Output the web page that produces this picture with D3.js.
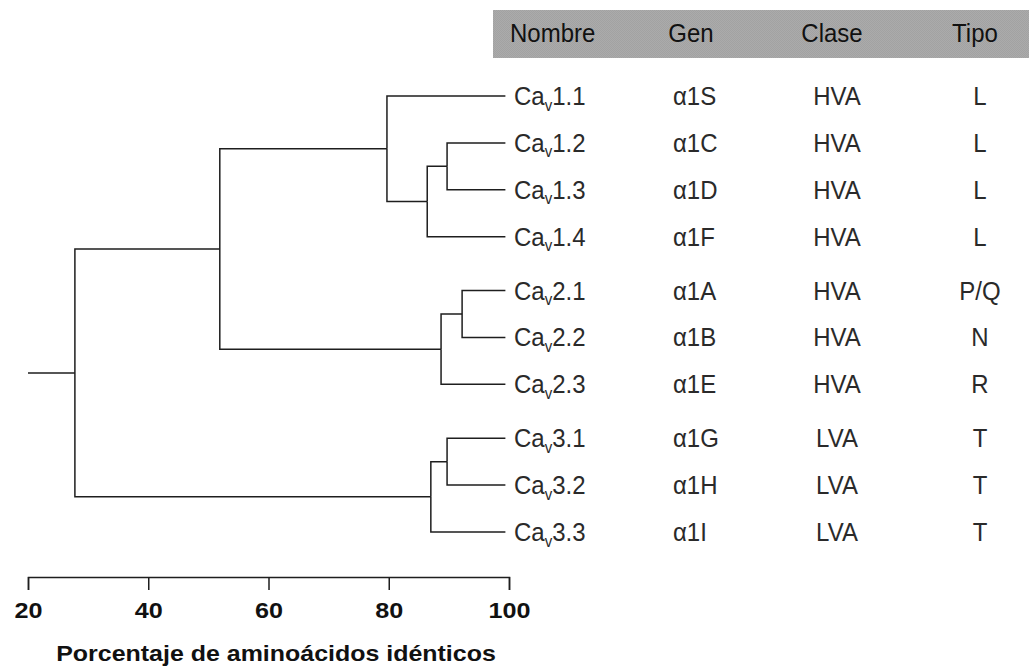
<!DOCTYPE html>
<html>
<head>
<meta charset="utf-8">
<script src="https://cdn.jsdelivr.net/npm/d3@7"></script>
<style>
  body { margin: 0; background: #fff; }
  svg { display: block; font-family: "Liberation Sans", Arial, sans-serif; }
</style>
</head>
<body>
<script>
// channel names, in leaf order
const leaves = ["1.1", "1.2", "1.3", "1.4", "2.1", "2.2", "2.3", "3.1", "3.2", "3.3"];
const genes = ["1S", "1C", "1D", "1F", "1A", "1B", "1E", "1G", "1H", "1I"];
const classes = ["HVA", "HVA", "HVA", "HVA", "HVA", "HVA", "HVA", "LVA", "LVA", "LVA"];
const types = ["L", "L", "L", "L", "P/Q", "N", "R", "T", "T", "T"];
const headers = ["Nombre", "Gen", "Clase", "Tipo"];

// merges: [left, right, % identity, new node id]
const merges = [
  ["1.2", "1.3", 89.7, "n1"],
  ["n1", "1.4", 86.4, "n2"],
  ["1.1", "n2", 79.7, "n3"],
  ["2.1", "2.2", 92.2, "n4"],
  ["n4", "2.3", 88.7, "n5"],
  ["n3", "n5", 51.9, "n6"],
  ["3.1", "3.2", 89.7, "n7"],
  ["n7", "3.3", 87.0, "n8"],
  ["n6", "n8", 27.8, "root"]
];
const leafValue = 99.4;
const axisTicks = [20, 40, 60, 80, 100];

const width = 1029, height = 667;

const svg = d3.select("body").append("svg")
  .attr("width", width)
  .attr("height", height);

// build the tree from the merge list
const nodes = new Map(leaves.map(d => [d, { id: d, h: leafValue }]));
merges.forEach(([a, b, h, id]) => {
  nodes.set(id, { id, h, children: [nodes.get(a), nodes.get(b)] });
});
const root = d3.hierarchy(nodes.get("root"));

const x = d3.scaleLinear().domain([20, 100]).range([28, 509]);

// a little extra room between channel families
const familyGap = { "12": 1.11, "23": 1.22 };
d3.cluster()
  .size([1, 1])
  .separation((a, b) => {
    const fa = a.data.id[0], fb = b.data.id[0];
    return fa === fb ? 1 : (familyGap[fa + fb] || 1.15);
  })(root);
const y = d3.scaleLinear()
  .domain(d3.extent(root.leaves(), d => d.x))
  .range([96, 532]);
root.each(d => { d.py = y(d.x); d.px = x(d.data.h); });

const ink = "#1e1e1e";

// header band, with a fine dither like the scan
const pat = svg.append("defs").append("pattern")
  .attr("id", "dither")
  .attr("width", 2).attr("height", 2)
  .attr("patternUnits", "userSpaceOnUse");
pat.append("rect").attr("width", 2).attr("height", 2).attr("fill", "#ababab");
pat.append("rect").attr("width", 1).attr("height", 1).attr("fill", "#a2a2a2");
pat.append("rect").attr("x", 1).attr("y", 1).attr("width", 1).attr("height", 1).attr("fill", "#a2a2a2");

svg.append("rect")
  .attr("x", 493).attr("y", 10)
  .attr("width", width - 493).attr("height", 48)
  .attr("fill", "url(#dither)");

const headerX = [510, 691, 832, 975];
const headerAnchor = ["start", "middle", "middle", "middle"];
svg.append("g").selectAll("text")
  .data(headers)
  .join("text")
  .attr("transform", (d, i) => `translate(${headerX[i]},42) scale(1,1.1)`)
  .attr("text-anchor", (d, i) => headerAnchor[i])
  .attr("font-size", 24)
  .attr("fill", "#111")
  .text(d => d);

// dendrogram links
const g = svg.append("g")
  .attr("fill", "none")
  .attr("stroke", ink)
  .attr("stroke-width", 1.5);

g.selectAll("path")
  .data(root.descendants().slice(1))
  .join("path")
  .attr("d", d => `M${d.parent.px},${d.parent.py}V${d.py}H${d.px}`);

g.append("path")
  .attr("d", `M${x(20)},${root.py}H${root.px}`);

// table rows
const rows = svg.append("g")
  .attr("font-size", 24)
  .attr("fill", "#2a2a2a")
  .selectAll("g")
  .data(root.leaves())
  .join("g")
  .attr("transform", d => `translate(0,${d.py + 9}) scale(1,1.1)`);

const name = rows.append("text")
  .attr("x", 514);
name.append("tspan").text("Ca");
name.append("tspan").attr("font-size", 15).attr("dy", 5).text("v");
name.append("tspan").attr("dy", -5).text(d => d.data.id);

rows.append("text")
  .attr("x", 673)
  .text(d => "\u03b1" + genes[leaves.indexOf(d.data.id)]);

rows.append("text")
  .attr("x", 837)
  .attr("text-anchor", "middle")
  .text(d => classes[leaves.indexOf(d.data.id)]);

rows.append("text")
  .attr("x", 980)
  .attr("text-anchor", "middle")
  .text(d => types[leaves.indexOf(d.data.id)]);

// axis
const axis = svg.append("g")
  .attr("transform", "translate(0,577)")
  .call(d3.axisBottom(x).tickValues(axisTicks).tickSize(13).tickSizeOuter(13).tickPadding(12));

axis.select(".domain").attr("stroke", ink).attr("stroke-width", 1.5);
axis.selectAll(".tick line").attr("stroke", ink).attr("stroke-width", 1.5);
axis.selectAll(".tick text")
  .attr("font-family", "'Liberation Sans', Arial, sans-serif")
  .attr("font-size", 22.5)
  .attr("font-weight", "bold")
  .attr("fill", "#111")
  .attr("transform", "scale(1.12,1)");

svg.append("text")
  .attr("transform", "translate(276,661) scale(1.11,1)")
  .attr("text-anchor", "middle")
  .attr("font-size", 22.5)
  .attr("font-weight", "bold")
  .attr("fill", "#111")
  .text("Porcentaje de aminoácidos idénticos");
</script>
</body>
</html>
